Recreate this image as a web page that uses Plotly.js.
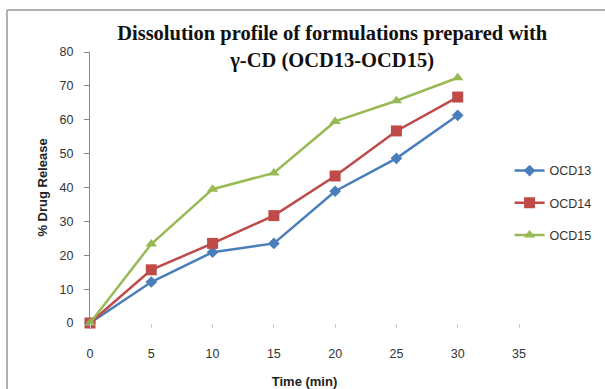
<!DOCTYPE html>
<html><head><meta charset="utf-8">
<script src="https://cdn.plot.ly/plotly-3.0.1.min.js"></script>
<style>html,body{margin:0;padding:0;background:#fff}#chart{width:605px;height:389px}</style>
</head><body><div id="chart"></div>
<script>
const time = [0, 5, 10, 15, 20, 25, 30];
const ocd13 = [0, 12.1, 20.9, 23.5, 38.9, 48.6, 61.3];
const ocd14 = [0, 15.7, 23.5, 31.7, 43.4, 56.7, 66.7];
const ocd15 = [0, 23.3, 39.5, 44.3, 59.5, 65.6, 72.4];
const seriesNames = ['OCD13', 'OCD14', 'OCD15'];
const xTicks = [0, 5, 10, 15, 20, 25, 30, 35];
const yTicks = [0, 10, 20, 30, 40, 50, 60, 70, 80];

const colors = ['#4a7ebb', '#be4b48', '#98b954'];
const symbols = ['diamond', 'square', 'triangle-up'];
const sizes = [9, 11, 10];
const data = [ocd13, ocd14, ocd15].map((y, i) => ({
  x: time, y: y, name: seriesNames[i], type: 'scatter', mode: 'lines+markers',
  legendgroup: 'g' + i, cliponaxis: false,
  line: {color: colors[i], width: 2.5},
  marker: {color: colors[i], symbol: symbols[i], size: sizes[i]}
}));

const tickFont = {family: 'Liberation Sans Narrow, Liberation Sans, sans-serif', size: 12.5, color: '#333'};
const layout = {
  width: 605, height: 389,
  margin: {l: 90, r: 86, t: 52, b: 66, autoexpand: false},
  paper_bgcolor: '#fff', plot_bgcolor: '#fff',
  showlegend: true,
  title: {
    text: '<b>Dissolution profile of formulations prepared with<br>γ-CD (OCD13-OCD15)</b>',
    font: {family: 'Liberation Serif, Times New Roman, serif', size: 20.5, color: '#111'},
    xref: 'container', yref: 'container', x: 0.549, xanchor: 'center',
    y: 1 - 40 / 389, yanchor: 'middle'
  },
  xaxis: {
    range: [0, 35], tickvals: xTicks, ticktext: xTicks.map(String),
    showline: false, showgrid: false, zeroline: false,
    ticks: 'outside', ticklen: 4, tickcolor: '#ccc', ticklabelstandoff: 15,
    tickfont: tickFont,
    title: {text: '<b>Time (min)</b>', font: {family: 'Liberation Sans, sans-serif', size: 13, color: '#222'}, standoff: 16}
  },
  yaxis: {
    range: [0, 80], tickvals: yTicks, ticktext: yTicks.map(String),
    showline: true, linecolor: '#868686', linewidth: 1,
    showgrid: false, zeroline: false,
    ticks: 'outside', ticklen: 5, tickcolor: '#868686', ticklabelstandoff: 8,
    tickfont: tickFont,
    title: {text: '<b>% Drug Release</b>', font: {family: 'Liberation Sans, sans-serif', size: 13, color: '#222'}, standoff: 9}
  },
  legend: {
    x: 0.978, xanchor: 'left', y: 0.443, yanchor: 'middle',
    font: {family: 'Liberation Sans Narrow, Liberation Sans, sans-serif', size: 12.5, color: '#333'},
    tracegroupgap: 13, traceorder: 'grouped', itemwidth: 30,
    bgcolor: 'rgba(0,0,0,0)'
  },
  shapes: [
    {type: 'line', xref: 'paper', yref: 'paper', x0: -0.1935, x1: -0.1935, y0: -0.26, y1: 1.155, line: {color: '#999', width: 1.5}},
    {type: 'line', xref: 'paper', yref: 'paper', x0: -0.1935, x1: 1.22, y0: 1.155, y1: 1.155, line: {color: '#999', width: 1.5}}
  ]
};
Plotly.newPlot('chart', data, layout, {staticPlot: true});
</script></body></html>
